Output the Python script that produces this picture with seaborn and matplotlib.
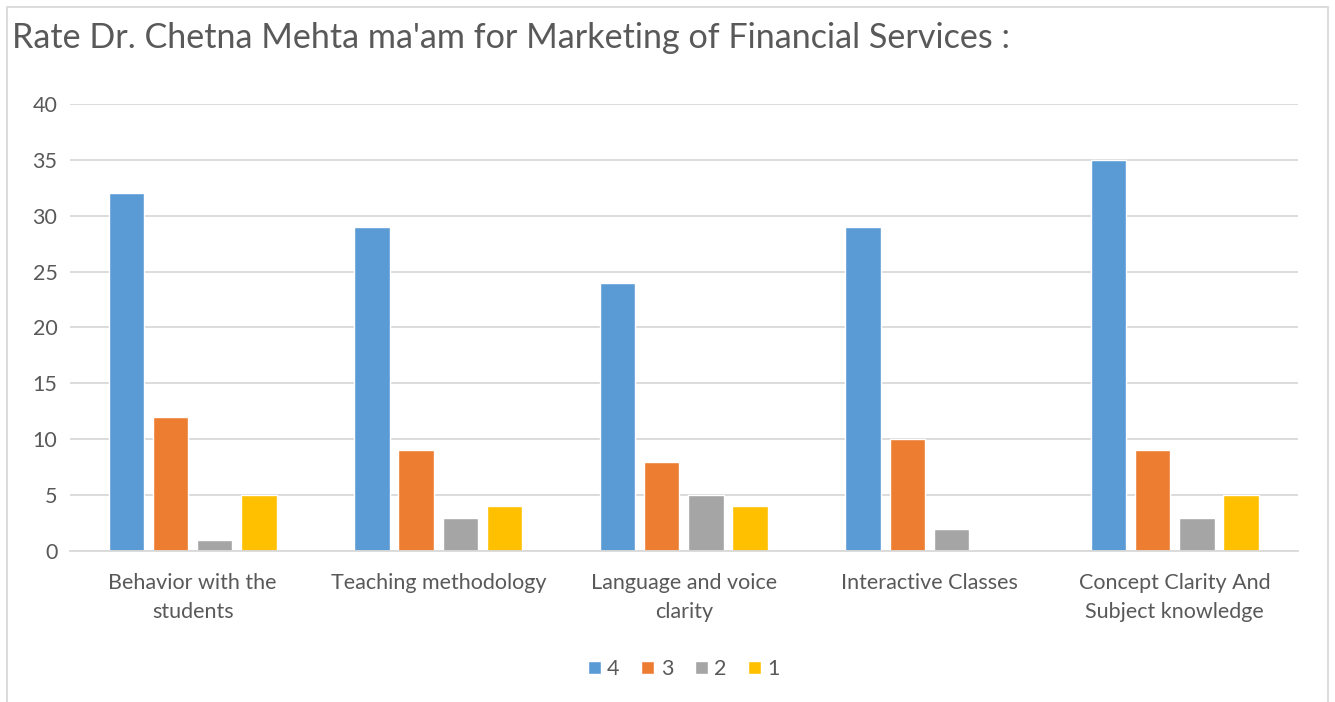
import numpy as np
import pandas as pd
import matplotlib
matplotlib.use("Agg")
import matplotlib.pyplot as plt
import seaborn as sns
from matplotlib.patches import Rectangle

# 数据
categories = ['Behavior with the\nstudents', 'Teaching methodology', 'Language and voice\nclarity',
              'Interactive Classes', 'Concept Clarity And\nSubject knowledge']
ratings = ['4', '3', '2', '1']
rate_4 = [32, 29, 24, 29, 35]
rate_3 = [12, 9, 8, 10, 9]
rate_2 = [1, 3, 5, 2, 3]
rate_1 = [5, 4, 4, 0, 5]
palette = ['#5B9BD5', '#ED7D31', '#A5A5A5', '#FFC000']

sns.set_style('white')
plt.rcParams['font.family'] = ['Lato', 'DejaVu Sans']

df = pd.DataFrame({
    'cat': np.repeat(categories, 4),
    'rating': ratings * len(categories),
    'count': [v for vals in zip(rate_4, rate_3, rate_2, rate_1) for v in vals],
})

fig = plt.figure(figsize=(13.35, 7.02), dpi=100)
ax = fig.add_axes([0.0524, 0.215, 0.9196, 0.637])

sns.barplot(data=df, x='cat', y='count', hue='rating', hue_order=ratings,
            palette=palette, width=0.72, gap=0.2, ax=ax, saturation=1)

ax.set_ylim(0, 40)
ax.set_yticks(range(0, 41, 5))
ax.yaxis.grid(True, color='#D9D9D9', lw=1.3)
ax.set_axisbelow(True)
for s in ['top', 'right', 'left']:
    ax.spines[s].set_visible(False)
ax.spines['bottom'].set_color('#D9D9D9')
ax.spines['bottom'].set_linewidth(1.3)
ax.tick_params(axis='both', length=0, labelsize=15.5, labelcolor='#595959')
ax.tick_params(axis='y', pad=9)
ax.tick_params(axis='x', pad=16)
for lbl in ax.get_xticklabels():
    lbl.set_linespacing(1.55)
ax.set_xlabel('')
ax.set_ylabel('')

ax.legend(loc='upper center', bbox_to_anchor=(0.5, -0.198), ncol=4, frameon=False,
          fontsize=15.5, labelcolor='#595959', handlelength=0.6, handleheight=0.6,
          handletextpad=0.3, columnspacing=1.0)

fig.text(0.009, 0.946, "Rate Dr. Chetna Mehta ma'am for Marketing of Financial Services :",
         fontsize=24.6, color='#595959', va='center', ha='left')

# 外框
fig.patches.append(Rectangle((7 / 1335, -0.01), 1321 / 1335, 1 - 7 / 702 + 0.01,
                             transform=fig.transFigure, fill=False,
                             edgecolor='#D9D9D9', lw=1.3))

fig.savefig('out.png', dpi=100)
